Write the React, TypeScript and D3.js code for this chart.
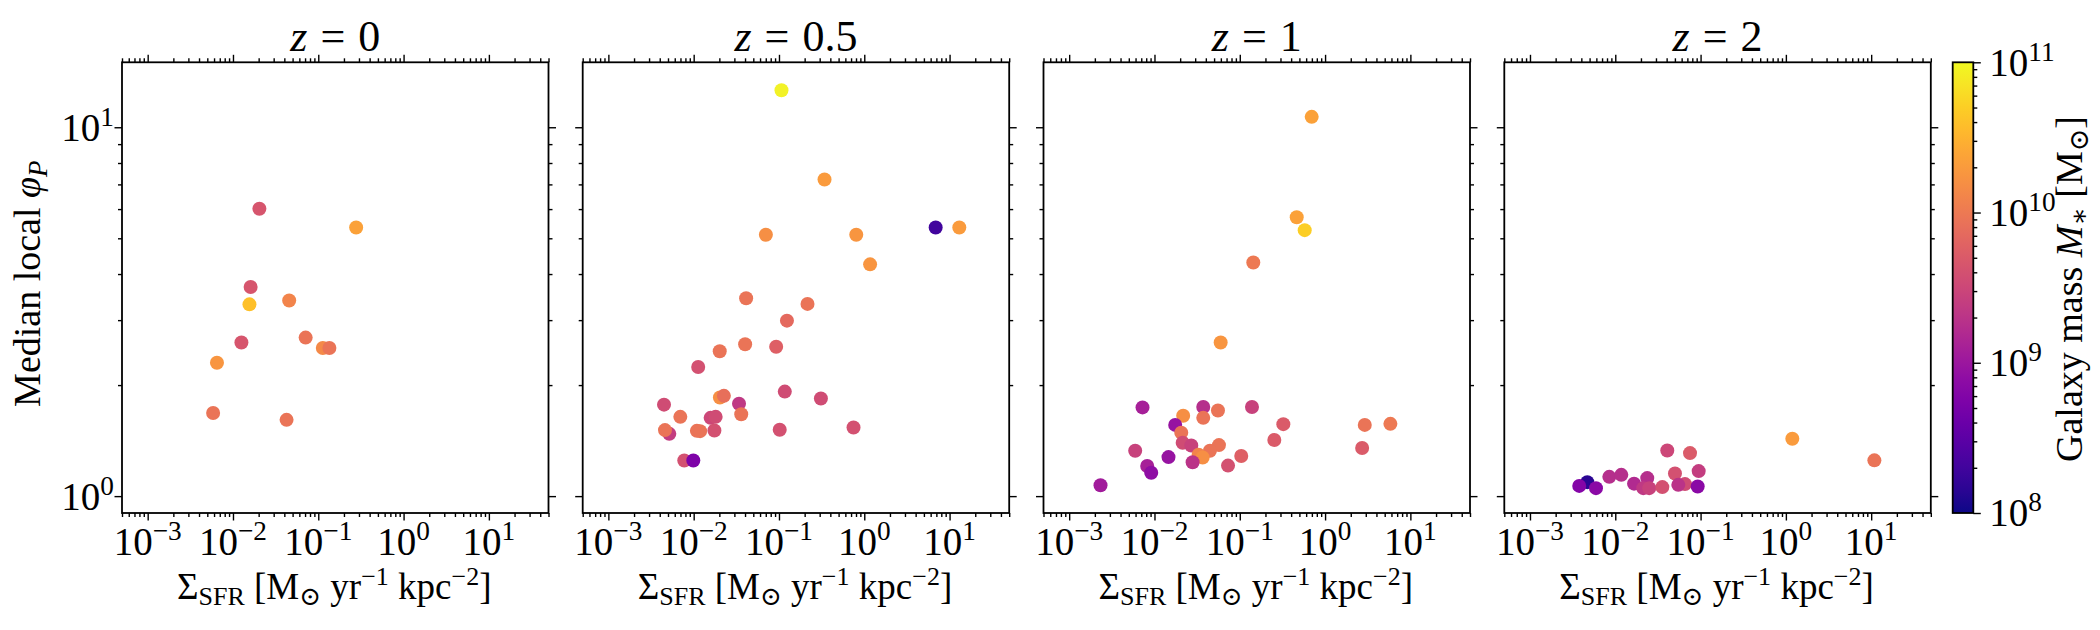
import React, { useEffect, useRef } from "react";
import * as d3 from "d3";

// redshift of each panel
const panelZ = ["0", "0.5", "1", "2"];

// z = 0 : SFR surface density, median local phi_P, log10 stellar mass
const z0Sfr = [0.0204, 0.278, 0.0161, 0.0156, 0.0456, 0.01256, 0.0711, 0.113, 0.135, 0.00649, 0.00585, 0.0425];
const z0Phi = [6.01, 5.35, 3.69, 3.31, 3.39, 2.61, 2.69, 2.52, 2.52, 2.3, 1.68, 1.61];
const z0Mass = [9.65, 10.35, 9.65, 10.6, 10.1, 9.65, 9.95, 10.15, 9.95, 10.25, 9.95, 9.95];

// z = 0.5
const z05Sfr = [0.107, 0.342, 0.0702, 0.805, 6.87, 13.0, 1.17, 0.0412, 0.216, 0.124, 0.0401, 0.0202, 0.0927, 0.0113, 0.117, 0.31, 0.0203, 0.0226, 0.034, 0.00449, 0.0361, 0.00697, 0.0158, 0.0181, 0.00518, 0.00461, 0.0109, 0.0119, 0.0175, 0.102, 0.748, 0.00776, 0.0099];
const z05Phi = [12.6, 7.22, 5.11, 5.11, 5.35, 5.35, 4.25, 3.44, 3.32, 2.99, 2.58, 2.47, 2.54, 2.24, 1.92, 1.84, 1.85, 1.87, 1.78, 1.77, 1.667, 1.64, 1.63, 1.64, 1.475, 1.51, 1.503, 1.5, 1.506, 1.513, 1.535, 1.249, 1.249];
const z05Mass = [10.95, 10.3, 10.2, 10.25, 8.3, 10.3, 10.25, 9.95, 9.95, 9.85, 9.95, 9.95, 9.75, 9.6, 9.55, 9.55, 10.2, 9.9, 9.35, 9.55, 9.95, 9.95, 9.5, 9.55, 9.4, 9.95, 9.95, 9.95, 9.6, 9.6, 9.6, 9.6, 8.75];

// z = 1
const z1Sfr = [0.697, 0.465, 0.577, 0.144, 0.0597, 0.00724, 0.0373, 0.139, 0.0555, 0.0217, 0.0373, 0.0175, 0.324, 2.92, 5.83, 0.0206, 0.254, 0.0214, 0.027, 0.057, 2.72, 0.00594, 0.0447, 0.0329, 0.0367, 0.104, 0.0146, 0.028, 0.00822, 0.0728, 0.00916, 0.00233];
const z1Phi = [10.67, 5.7, 5.26, 4.3, 2.61, 1.74, 1.745, 1.745, 1.706, 1.652, 1.63, 1.56, 1.567, 1.56, 1.57, 1.486, 1.42, 1.396, 1.372, 1.375, 1.35, 1.328, 1.327, 1.295, 1.273, 1.285, 1.276, 1.235, 1.207, 1.21, 1.157, 1.07];
const z1Mass = [10.35, 10.35, 10.7, 10.0, 10.25, 9.1, 9.25, 9.45, 9.95, 10.2, 9.95, 8.95, 9.7, 9.95, 10.0, 9.95, 9.7, 9.55, 9.45, 9.95, 9.7, 9.45, 9.95, 10.1, 10.2, 9.75, 8.95, 9.3, 9.1, 9.6, 8.9, 9.05];

// z = 2
const z2Sfr = [1.19, 10.9, 0.0407, 0.0752, 0.095, 0.0501, 0.00851, 0.01177, 0.0237, 0.0166, 0.0047, 0.00378, 0.00594, 0.0213, 0.025, 0.0356, 0.0656, 0.0548, 0.0925];
const z2Phi = [1.43, 1.25, 1.329, 1.308, 1.169, 1.152, 1.128, 1.142, 1.119, 1.081, 1.091, 1.066, 1.051, 1.051, 1.051, 1.058, 1.078, 1.073, 1.062];
const z2Mass = [10.3, 9.95, 9.5, 9.7, 9.4, 9.6, 9.25, 9.25, 9.25, 9.2, 8.15, 8.8, 8.85, 9.35, 9.45, 9.6, 9.55, 9.3, 8.85];

const panelSfr = [z0Sfr, z05Sfr, z1Sfr, z2Sfr];
const panelPhi = [z0Phi, z05Phi, z1Phi, z2Phi];
const panelMass = [z0Mass, z05Mass, z1Mass, z2Mass];

const xMajorExp = ["−3", "−2", "−1", "0", "1"];
const yMajorExp = ["0", "1"];
const cbMajorExp = ["8", "9", "10", "11"];

const FONT = "'Liberation Serif', 'DejaVu Serif', serif";

export default function App() {
  const ref = useRef<SVGSVGElement>(null);

  useEffect(() => {
    const svg = d3.select(ref.current);
    svg.selectAll("*").remove();

    const panelLeft = [122, 582.7, 1043.5, 1504.3];
    const panelW = 426.5;
    const top = 62.3;
    const panelH = 450.7;
    const fs = 39;

    const x = d3.scaleLog().domain([5e-4, 50]).range([0, panelW]);
    const y = d3.scaleLog().domain([0.9, 15]).range([panelH, 0]);
    const color = d3.scaleSequentialLog(d3.interpolatePlasma).domain([1e8, 1e11]);

    const isMajor = (v: number) => Math.abs(Math.log10(v) - Math.round(Math.log10(v))) < 1e-9;
    const xMinor = x.ticks().filter(v => !isMajor(v));
    const xMajor = x.ticks().filter(isMajor);
    const yMinor = y.ticks().filter(v => !isMajor(v) && v > 0.9);
    const yMajor = y.ticks().filter(isMajor);

    const styleAxis = (g: any) => {
      g.select(".domain").remove();
      g.selectAll("line").attr("stroke", "#000").attr("stroke-width", 1.4);
      g.selectAll("text").remove();
    };

    // writes "10^exp" into a text element
    const powerLabel = (t: any, exp: string) => {
      t.append("tspan").text("10");
      t.append("tspan").attr("dy", -15).attr("font-size", fs * 0.7).text(exp);
    };

    panelZ.forEach((zLabel, p) => {
      const g = svg.append("g").attr("transform", `translate(${panelLeft[p]},${top})`);

      // ticks on all four sides, pointing out
      const axes: [any, number, number, string][] = [
        [d3.axisBottom(x), 0, panelH, "x"],
        [d3.axisTop(x), 0, 0, "x"],
        [d3.axisLeft(y), 0, 0, "y"],
        [d3.axisRight(y), panelW, 0, "y"],
      ];
      axes.forEach(([axisFn, tx, ty, kind]) => {
        const minor = kind === "x" ? xMinor : yMinor;
        const major = kind === "x" ? xMajor : yMajor;
        g.append("g").attr("transform", `translate(${tx},${ty})`)
          .call(axisFn.tickValues(minor).tickSize(4).tickFormat(() => ""))
          .call(styleAxis);
        g.append("g").attr("transform", `translate(${tx},${ty})`)
          .call(axisFn.tickValues(major).tickSize(7.5).tickFormat(() => ""))
          .call(styleAxis);
      });

      // scatter
      const pts = panelSfr[p].map((s, i) => ({ s, phi: panelPhi[p][i], m: Math.pow(10, panelMass[p][i]) }));
      g.append("g").selectAll("circle")
        .data(pts)
        .join("circle")
        .attr("cx", d => x(d.s))
        .attr("cy", d => y(d.phi))
        .attr("r", 7)
        .attr("fill", d => color(d.m));

      g.append("rect")
        .attr("width", panelW).attr("height", panelH)
        .attr("fill", "none").attr("stroke", "#000").attr("stroke-width", 1.8);

      // x tick labels
      xMajor.forEach((v, i) => {
        const t = g.append("text")
          .attr("x", x(v)).attr("y", panelH + 42)
          .attr("text-anchor", "middle")
          .attr("font-family", FONT).attr("font-size", fs);
        powerLabel(t, xMajorExp[i]);
      });

      // y tick labels only on the first panel
      if (p === 0) {
        yMajor.forEach((v, i) => {
          const t = g.append("text")
            .attr("x", -8).attr("y", y(v) + 14)
            .attr("text-anchor", "end")
            .attr("font-family", FONT).attr("font-size", fs);
          powerLabel(t, yMajorExp[i]);
        });
        const yl = g.append("text")
          .attr("transform", `translate(${40 - panelLeft[0]},${panelH / 2 - 4}) rotate(-90)`)
          .attr("text-anchor", "middle")
          .attr("font-family", FONT).attr("font-size", 38);
        yl.append("tspan").text("Median local ");
        yl.append("tspan").attr("font-style", "italic").text("φ");
        yl.append("tspan").attr("font-style", "italic").attr("dy", 7).attr("font-size", 27).text("P");
      }

      // title
      const title = g.append("text")
        .attr("x", panelW / 2).attr("y", -11)
        .attr("text-anchor", "middle")
        .attr("font-family", FONT).attr("font-size", 44);
      title.append("tspan").attr("font-style", "italic").text("z");
      title.append("tspan").attr("dx", 13).text("=");
      title.append("tspan").attr("dx", 13).text(zLabel);

      // x label
      const xl = g.append("text")
        .attr("x", panelW / 2 - 1).attr("y", panelH + 86)
        .attr("text-anchor", "middle")
        .attr("font-family", FONT).attr("font-size", 37);
      xl.append("tspan").text("Σ");
      xl.append("tspan").attr("dy", 6).attr("font-size", 26).text("SFR");
      xl.append("tspan").attr("dy", -6).text(" [M");
      xl.append("tspan").attr("dy", 6).attr("font-size", 26).text("⊙");
      xl.append("tspan").attr("dy", -6).text(" yr");
      xl.append("tspan").attr("dy", -14).attr("font-size", 26).text("−1");
      xl.append("tspan").attr("dy", 14).text(" kpc");
      xl.append("tspan").attr("dy", -14).attr("font-size", 26).text("−2");
      xl.append("tspan").attr("dy", 14).text("]");
    });

    // colorbar
    const cbX = 1952.7;
    const cbW = 20.6;
    const defs = svg.append("defs");
    const grad = defs.append("linearGradient").attr("id", "plasmaGrad")
      .attr("x1", 0).attr("y1", 1).attr("x2", 0).attr("y2", 0);
    d3.range(0, 1.0001, 0.05).forEach(t => {
      grad.append("stop").attr("offset", t).attr("stop-color", d3.interpolatePlasma(t));
    });
    const cb = svg.append("g").attr("transform", `translate(${cbX},${top})`);
    cb.append("rect").attr("width", cbW).attr("height", panelH).attr("fill", "url(#plasmaGrad)");
    const cbScale = d3.scaleLog().domain([1e8, 1e11]).range([panelH, 0]);
    const cbMinor = cbScale.ticks().filter(v => !isMajor(v));
    const cbMajor = cbScale.ticks().filter(isMajor);
    cb.append("g").attr("transform", `translate(${cbW},0)`)
      .call(d3.axisRight(cbScale).tickValues(cbMinor).tickSize(4).tickFormat(() => ""))
      .call(styleAxis);
    cb.append("g").attr("transform", `translate(${cbW},0)`)
      .call(d3.axisRight(cbScale).tickValues(cbMajor).tickSize(7.5).tickFormat(() => ""))
      .call(styleAxis);
    cb.append("rect").attr("width", cbW).attr("height", panelH)
      .attr("fill", "none").attr("stroke", "#000").attr("stroke-width", 1.8);
    cbMajor.forEach((v, i) => {
      const t = cb.append("text")
        .attr("x", cbW + 16).attr("y", cbScale(v) + 13.5)
        .attr("font-family", FONT).attr("font-size", fs);
      powerLabel(t, cbMajorExp[i]);
    });
    const cl = svg.append("text")
      .attr("transform", `translate(2082,289) rotate(-90)`)
      .attr("text-anchor", "middle")
      .attr("font-family", FONT).attr("font-size", 38);
    cl.append("tspan").text("Galaxy mass ");
    cl.append("tspan").attr("font-style", "italic").text("M");
    cl.append("tspan").attr("dy", 6).attr("font-size", 27).text("∗");
    cl.append("tspan").attr("dy", -6).text(" [M");
    cl.append("tspan").attr("dy", 6).attr("font-size", 27).text("⊙");
    cl.append("tspan").attr("dy", -6).text("]");
  }, []);

  return (
    <svg
      ref={ref}
      width={2100}
      height={630}
      style={{ position: "absolute", left: 0, top: 0, background: "#fff" }}
    />
  );
}
